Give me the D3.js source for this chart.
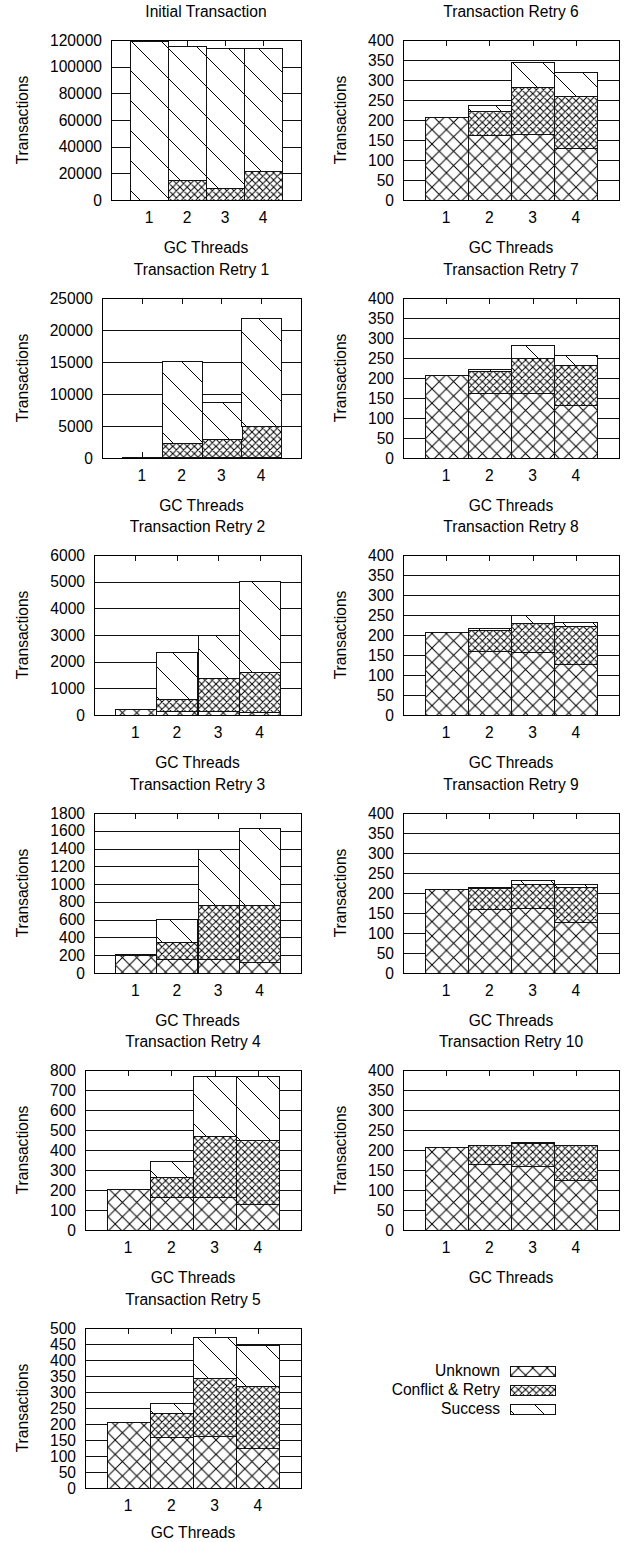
<!DOCTYPE html>
<html>
<head>
<meta charset="utf-8">
<script src="https://cdn.jsdelivr.net/npm/d3@7"></script>
<style>
  body { margin: 0; background: #fff; }
  text { font-family: "Liberation Sans", Arial, sans-serif; font-size: 15.6px; fill: #000; }
</style>
</head>
<body>
<script>
var width = 624;
var height = 1542;

// chart data
var titles = ["Initial Transaction", "Transaction Retry 1", "Transaction Retry 2",
  "Transaction Retry 3", "Transaction Retry 4", "Transaction Retry 5",
  "Transaction Retry 6", "Transaction Retry 7", "Transaction Retry 8",
  "Transaction Retry 9", "Transaction Retry 10"];
var threads = ["1", "2", "3", "4"];
var seriesNames = ["Unknown", "Conflict & Retry", "Success"];
var yMax = [120000, 25000, 6000, 1800, 800, 500, 400, 400, 400, 400, 400];
var yStep = [20000, 5000, 1000, 200, 100, 50, 50, 50, 50, 50, 50];

var unknown = [
  [207, 162, 163, 128], [207, 162, 163, 128], [207, 162, 163, 128],
  [207, 160, 163, 128], [205, 163, 163, 130], [207, 160, 164, 126],
  [208, 163, 165, 130], [207, 162, 163, 132], [207, 160, 158, 127],
  [209, 160, 162, 128], [207, 165, 161, 125]];
var conflict = [
  [0, 14990, 8640, 21770], [0, 2138, 2787, 4872], [0, 438, 1217, 1497],
  [0, 185, 606, 640], [0, 104, 309, 320], [0, 74, 180, 192],
  [0, 60, 118, 129], [0, 56, 86, 100], [0, 53, 73, 95],
  [0, 52, 60, 88], [0, 47, 57, 87]];
var success = [
  [119400, 100250, 105400, 92000], [0, 12850, 5850, 16850], [0, 1760, 1620, 3395],
  [3, 259, 622, 863], [2, 80, 298, 320], [0, 33, 129, 130],
  [0, 14, 63, 62], [0, 4, 33, 26], [0, 4, 18, 10],
  [0, 2, 10, 6], [0, 1, 3, 1]];

var svg = d3.select("body").append("svg")
  .attr("width", width).attr("height", height);
var defs = svg.append("defs");

// diagonal line set, dir 1 = "\" , dir -1 = "/"
function diag(s, dir) {
  var d = "";
  for (var k = -1; k <= 1; k++) {
    if (dir > 0) d += "M" + (-1) + "," + (-1 + k * s) + "L" + (s + 1) + "," + (s + 1 + k * s);
    else d += "M" + (-1) + "," + (s + 1 + k * s) + "L" + (s + 1) + "," + (-1 + k * s);
  }
  return d;
}
function hatch(id, s, d) {
  var p = defs.append("pattern").attr("id", id)
    .attr("patternUnits", "userSpaceOnUse").attr("width", s).attr("height", s);
  p.append("rect").attr("width", s).attr("height", s).attr("fill", "#fff");
  p.append("path").attr("d", d).attr("fill", "none")
    .attr("stroke", "#000").attr("stroke-width", 1);
}
hatch("p0", 14.4, diag(14.4, 1) + diag(14.4, -1));
hatch("p1", 7.2, diag(7.2, 1) + diag(7.2, -1));
hatch("p2", 30, diag(30, 1));
var fills = ["url(#p0)", "url(#p1)", "url(#p2)"];

var stack = d3.stack().keys([0, 1, 2]);
var rowTop0 = 40, rowPitch = 257.6, plotH = 160;

titles.forEach(function (title, i) {
  var col = i < 6 ? 0 : 1;
  var row = i < 6 ? i : i - 6;
  var colX = col * 318;
  var digits = String(yMax[i]).length;
  var left = Math.round(colX + 59 + 8.67 * digits);
  var right = colX + 301;
  var top = Math.round(rowTop0 + row * rowPitch);
  var bottom = top + plotH;

  var x = d3.scaleBand().domain(threads)
    .range([left + (right - left) / 10, right - (right - left) / 10]).padding(0);
  var y = d3.scaleLinear().domain([0, yMax[i]]).range([bottom, top]);
  var ticks = d3.range(0, yMax[i] + 1, yStep[i]);

  var g = svg.append("g");

  // grid lines
  g.selectAll(".grid").data(ticks).enter().append("line")
    .attr("x1", left).attr("x2", right)
    .attr("y1", function (d) { return Math.round(y(d)) + 0.5; })
    .attr("y2", function (d) { return Math.round(y(d)) + 0.5; })
    .style("stroke", "#111").style("stroke-width", 1);

  // x ticks on top and bottom (behind bars)
  threads.forEach(function (t) {
    var cx = Math.round(x(t) + x.bandwidth() / 2) + 0.5;
    g.append("line").attr("x1", cx).attr("x2", cx).attr("y1", top).attr("y2", top + 6)
      .style("stroke", "#111");
    g.append("line").attr("x1", cx).attr("x2", cx).attr("y1", bottom).attr("y2", bottom - 6)
      .style("stroke", "#111");
  });

  var rows = threads.map(function (t, j) {
    return { t: t, 0: unknown[i][j], 1: conflict[i][j], 2: success[i][j] };
  });
  var layers = stack(rows);

  layers.forEach(function (layer, k) {
    g.selectAll(".bar" + k).data(layer).enter().append("rect")
      .attr("x", function (d) { return Math.round(x(d.data.t)) + 0.5; })
      .attr("width", Math.round(x.bandwidth()))
      .attr("y", function (d) { return Math.round(y(d[1])) + 0.5; })
      .attr("height", function (d) { return Math.max(0, Math.round(y(d[0])) - Math.round(y(d[1]))); })
      .style("fill", fills[k])
      .style("stroke", "#111").style("stroke-width", 1);
  });

  // frame
  g.append("rect").attr("x", left + 0.5).attr("y", top + 0.5)
    .attr("width", right - left).attr("height", plotH)
    .style("fill", "none").style("stroke", "#000").style("stroke-width", 1);

  // y tick labels
  g.selectAll(".ylab").data(ticks).enter().append("text")
    .attr("x", left - 9).attr("y", function (d) { return y(d) + 5.6; })
    .attr("text-anchor", "end").text(function (d) { return d; });

  // x tick labels
  threads.forEach(function (t) {
    g.append("text").attr("x", x(t) + x.bandwidth() / 2).attr("y", bottom + 23)
      .attr("text-anchor", "middle").text(t);
  });

  g.append("text").attr("x", (left + right) / 2).attr("y", top - 23)
    .attr("text-anchor", "middle").text(title);
  g.append("text").attr("x", (left + right) / 2).attr("y", Math.min(bottom + 53, height - 4))
    .attr("text-anchor", "middle").text("GC Threads");
  g.append("text")
    .attr("transform", "translate(" + (colX + 28) + "," + (top + plotH / 2) + ") rotate(-90)")
    .attr("text-anchor", "middle").text("Transactions");
});

// legend
var legend = svg.append("g");
seriesNames.forEach(function (name, k) {
  var by = 1376 + k * 19;
  legend.append("text").attr("x", 500).attr("y", by).attr("text-anchor", "end").text(name);
  legend.append("rect").attr("x", 510.5).attr("y", by - 9.5).attr("width", 45).attr("height", 10)
    .style("fill", fills[k]).style("stroke", "#111").style("stroke-width", 1);
});
</script>
</body>
</html>
